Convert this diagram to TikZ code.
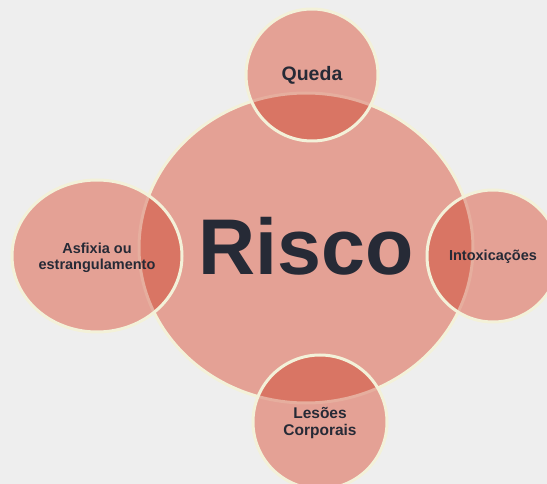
\documentclass[tikz,border=0pt]{standalone}
\usepackage{fontspec}
\setmainfont{Liberation Sans}
\definecolor{bg}{HTML}{EEEEEE}
\definecolor{salmon}{HTML}{E4A195}
\definecolor{dark}{HTML}{D97564}
\definecolor{rim}{HTML}{F3F1D9}
\definecolor{faint}{HTML}{E6AE9E}
\definecolor{ink}{HTML}{262A36}
\begin{document}
\begin{tikzpicture}[x=1pt,y=-1pt,
  blob/.style={fill=salmon},
  rimline/.style={draw=rim,line width=3pt},
  lbl/.style={font=\bfseries\fontsize{14.5}{15.5}\selectfont,text=ink,align=center,inner sep=0pt}]
\fill[bg] (0,0) rectangle (547,484);
\useasboundingbox (0,0) rectangle (547,484);
% central
\path[blob] (306,248) ellipse [x radius=167,y radius=155];
\draw[rimline] (306,248) ellipse [x radius=167,y radius=155];
% outer fills
\path[blob] (312,75) circle [radius=66];
\path[blob] (97,256) ellipse [x radius=85,y radius=76];
\path[blob] (493,256) circle [radius=66];
\path[blob] (320,422) circle [radius=67];
% overlaps
\begin{scope}
\clip (306,248) ellipse [x radius=167,y radius=155];
\fill[dark] (312,75) circle [radius=66];
\fill[dark] (97,256) ellipse [x radius=85,y radius=76];
\fill[dark] (493,256) circle [radius=66];
\fill[dark] (320,422) circle [radius=67];
\end{scope}
% faint central rim inside outer circles
\begin{scope}
\clip (312,75) circle [radius=66] (97,256) ellipse [x radius=85,y radius=76]
      (493,256) circle [radius=66] (320,422) circle [radius=67];
\draw[faint,line width=3pt] (306,248) ellipse [x radius=167,y radius=155];
\end{scope}
% outer rims
\draw[rimline] (312,75) circle [radius=66];
\draw[rimline] (97,256) ellipse [x radius=85,y radius=76];
\draw[rimline] (493,256) circle [radius=66];
\draw[rimline] (320,422) circle [radius=67];
% labels
\node[lbl,anchor=base,font=\bfseries\fontsize{79}{80}\selectfont] (risco) at (306,275) {Risco};
\node[lbl,anchor=base,font=\bfseries\fontsize{19.5}{20}\selectfont] (queda) at (312,81) {Queda};
\node[lbl] (asf) at (97,258) {Asfixia ou\\estrangulamento};
\node[lbl,anchor=base] (intox) at (493,261) {Intoxicações};
\node[lbl,font=\bfseries\fontsize{15.5}{16.5}\selectfont] (les) at (320,423) {Lesões\\Corporais};
\end{tikzpicture}
\end{document}
